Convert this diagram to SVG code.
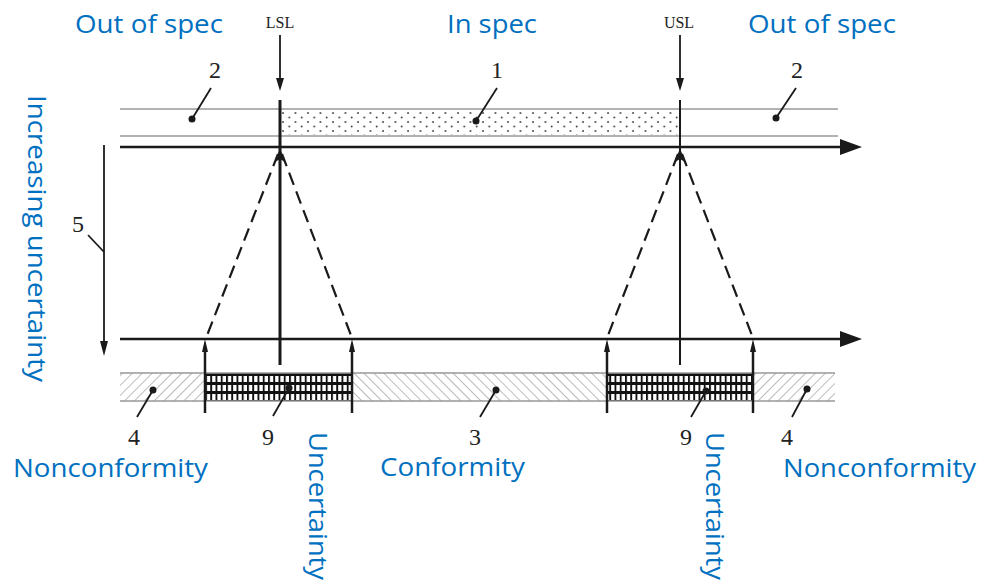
<svg xmlns="http://www.w3.org/2000/svg" width="994" height="582" viewBox="0 0 994 582">
  <style>
    .blue { font-family: "Open Sans", "Noto Sans", sans-serif; font-size: 25px; fill: #0070C0; }
    .num { font-family: "Liberation Serif", "DejaVu Serif", serif; font-size: 24px; fill: #222; text-anchor: middle; }
    .lim { font-family: "Liberation Serif", "DejaVu Serif", serif; font-size: 16px; fill: #222; text-anchor: middle; }
    .band { stroke: #999; stroke-width: 1.4; fill: none; }
    .axis { stroke: #1a1a1a; stroke-width: 2.5; fill: none; }
    .lead { stroke: #1a1a1a; stroke-width: 1.8; fill: none; }
    .dash { stroke: #1a1a1a; stroke-width: 2.2; stroke-dasharray: 13 7; fill: none; }
    .ah { fill: #1a1a1a; }
  </style>
  <defs>
    <pattern id="dots" width="12.5" height="9" patternUnits="userSpaceOnUse" x="280" y="110">
      <circle cx="3" cy="3" r="0.9" fill="#333"/>
      <circle cx="9.25" cy="7.5" r="0.9" fill="#333"/>
    </pattern>
    <pattern id="hatchB" width="7" height="7" patternUnits="userSpaceOnUse" patternTransform="rotate(45)">
      <line x1="0" y1="0" x2="0" y2="7" stroke="#777" stroke-width="1"/>
    </pattern>
    <pattern id="hatchF" width="7" height="7" patternUnits="userSpaceOnUse" patternTransform="rotate(-45)">
      <line x1="0" y1="0" x2="0" y2="7" stroke="#777" stroke-width="1"/>
    </pattern>
    <pattern id="grid" width="5.25" height="9" patternUnits="userSpaceOnUse" x="205" y="373">
      <rect x="0" y="0" width="1.9" height="9" fill="#111"/>
      <rect x="0" y="0" width="5.25" height="3" fill="#111"/>
    </pattern>
  </defs>

  <!-- top band -->
  <g id="top-band">
    <rect x="280" y="110" width="400" height="25" fill="url(#dots)"/>
    <line class="band" x1="120" y1="109" x2="838" y2="109"/>
    <line class="band" x1="120" y1="136" x2="838" y2="136"/>
  </g>

  <!-- bottom band -->
  <g id="bottom-band">
    <rect x="120" y="373" width="85" height="28" fill="url(#hatchB)"/>
    <rect x="352" y="373" width="255" height="28" fill="url(#hatchF)"/>
    <rect x="753" y="373" width="82" height="28" fill="url(#hatchB)"/>
    <rect x="205" y="373" width="147" height="28" fill="url(#grid)"/>
    <rect x="607" y="373" width="146" height="28" fill="url(#grid)"/>
    <line class="band" x1="120" y1="373" x2="835" y2="373"/>
    <line class="band" x1="120" y1="401" x2="835" y2="401"/>
  </g>

  <g id="connectors">
    <!-- axes -->
    <line class="axis" x1="120" y1="147" x2="842" y2="147"/>
    <polygon class="ah" points="840,139 862,147 840,155"/>
    <line class="axis" x1="120" y1="339" x2="842" y2="339"/>
    <polygon class="ah" points="840,331 862,339 840,347"/>

    <!-- limit lines -->
    <line x1="280" y1="100" x2="280" y2="365" stroke="#1a1a1a" stroke-width="3"/>
    <line x1="680" y1="100" x2="680" y2="365" stroke="#1a1a1a" stroke-width="2"/>
    <!-- LSL / USL arrows -->
    <line class="lead" x1="280" y1="35" x2="280" y2="80"/>
    <polygon class="ah" points="276,78 280,91 284,78"/>
    <line class="lead" x1="680" y1="35" x2="680" y2="80"/>
    <polygon class="ah" points="676,78 680,91 684,78"/>
    <!-- apex arrowheads -->
    <polygon class="ah" points="280,148 275,162 280,159 285,162"/>
    <polygon class="ah" points="680,148 675,162 680,159 685,162"/>

    <!-- dashed triangles -->
    <line class="dash" x1="278" y1="154" x2="206" y2="338"/>
    <line class="dash" x1="282" y1="154" x2="352" y2="338"/>
    <line class="dash" x1="678" y1="154" x2="607" y2="338"/>
    <line class="dash" x1="682" y1="154" x2="753" y2="338"/>

    <!-- vertical uncertainty bounds -->
    <line class="axis" x1="205" y1="350" x2="205" y2="413"/>
    <polygon class="ah" points="202,352 205,339 208,352"/>
    <line class="axis" x1="352" y1="350" x2="352" y2="413"/>
    <polygon class="ah" points="349,352 352,339 355,352"/>
    <line class="axis" x1="607" y1="350" x2="607" y2="413"/>
    <polygon class="ah" points="604,352 607,339 610,352"/>
    <line class="axis" x1="753" y1="350" x2="753" y2="413"/>
    <polygon class="ah" points="750,352 753,339 756,352"/>

    <!-- increasing uncertainty arrow -->
    <line x1="104" y1="145" x2="104" y2="343" stroke="#1a1a1a" stroke-width="1.8"/>
    <polygon class="ah" points="100,341 104,356 108,341"/>

    <!-- leaders -->
    <line class="lead" x1="211" y1="88" x2="192" y2="119"/>
    <circle cx="192" cy="119" r="3.5" fill="#1a1a1a"/>
    <line class="lead" x1="497" y1="88" x2="476" y2="121"/>
    <circle cx="476" cy="121" r="3.5" fill="#1a1a1a"/>
    <line class="lead" x1="796" y1="88" x2="776" y2="118"/>
    <circle cx="776" cy="118" r="3.5" fill="#1a1a1a"/>
    <line class="lead" x1="88" y1="235" x2="104" y2="252"/>
    <line class="lead" x1="137" y1="417" x2="153" y2="390"/>
    <circle cx="153" cy="390" r="3.5" fill="#1a1a1a"/>
    <line class="lead" x1="273" y1="416" x2="289" y2="388"/>
    <circle cx="289" cy="388" r="3.5" fill="#1a1a1a"/>
    <line class="lead" x1="480" y1="417" x2="496" y2="390"/>
    <circle cx="496" cy="390" r="3.5" fill="#1a1a1a"/>
    <line class="lead" x1="691" y1="417" x2="706" y2="391"/>
    <circle cx="706" cy="391" r="3.5" fill="#1a1a1a"/>
    <line class="lead" x1="792" y1="417" x2="807" y2="389"/>
    <circle cx="807" cy="389" r="3.5" fill="#1a1a1a"/>
  </g>

  <!-- labels -->
  <g id="labels">
    <text class="lim" x="280" y="28">LSL</text>
    <text class="lim" x="679" y="28">USL</text>
    <text class="num" x="215" y="78">2</text>
    <text class="num" x="497" y="78">1</text>
    <text class="num" x="797" y="78">2</text>
    <text class="num" x="78" y="232">5</text>
    <text class="num" x="134" y="445">4</text>
    <text class="num" x="268" y="445">9</text>
    <text class="num" x="475" y="445">3</text>
    <text class="num" x="686" y="445">9</text>
    <text class="num" x="787" y="445">4</text>

    <text class="blue" x="75" y="33" textLength="148" lengthAdjust="spacingAndGlyphs">Out of spec</text>
    <text class="blue" x="447" y="33" textLength="90" lengthAdjust="spacingAndGlyphs">In spec</text>
    <text class="blue" x="748" y="33" textLength="148" lengthAdjust="spacingAndGlyphs">Out of spec</text>
    <text class="blue" x="13" y="477" textLength="195" lengthAdjust="spacingAndGlyphs">Nonconformity</text>
    <text class="blue" x="380" y="476" textLength="145" lengthAdjust="spacingAndGlyphs">Conformity</text>
    <text class="blue" x="783" y="477" textLength="193" lengthAdjust="spacingAndGlyphs">Nonconformity</text>
    <text class="blue" transform="translate(28,95) rotate(90)" textLength="287" lengthAdjust="spacingAndGlyphs">Increasing uncertainty</text>
    <text class="blue" transform="translate(309,432) rotate(90)" textLength="148" lengthAdjust="spacingAndGlyphs">Uncertainty</text>
    <text class="blue" transform="translate(706,432) rotate(90)" textLength="148" lengthAdjust="spacingAndGlyphs">Uncertainty</text>
  </g>
</svg>
